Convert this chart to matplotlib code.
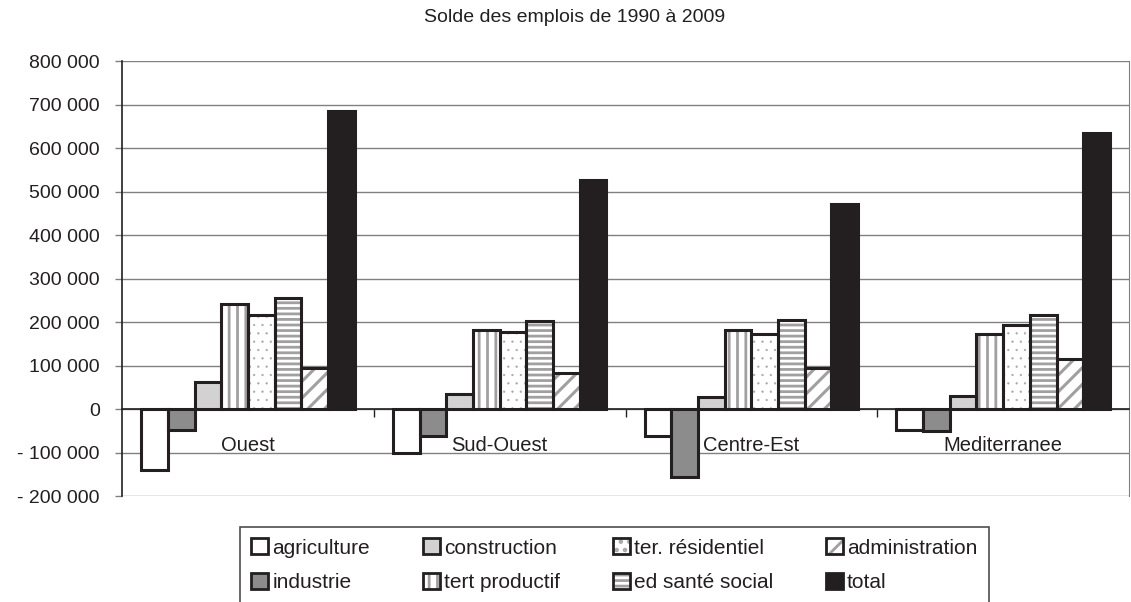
import numpy as np
import matplotlib
matplotlib.use("Agg")
import matplotlib.pyplot as plt
import matplotlib.patches as mpatches
from matplotlib.ticker import FuncFormatter, FixedLocator

# données : solde des emplois 1990-2009 par grande région
regions = ["Ouest", "Sud-Ouest", "Centre-Est", "Mediterranee"]
agriculture = [-140000, -100000, -61000, -48000]
industrie = [-48000, -62000, -155000, -49000]
construction = [62000, 36000, 29000, 31000]
tert_productif = [242000, 182000, 182000, 173000]
ter_residentiel = [217000, 177000, 172000, 194000]
ed_sante_social = [255000, 204000, 205000, 217000]
administration = [94000, 83000, 94000, 116000]
total = [686000, 526000, 472000, 636000]

series_names = ["agriculture", "industrie", "construction", "tert productif",
                "ter. résidentiel", "ed santé social", "administration", "total"]
series_values = [agriculture, industrie, construction, tert_productif,
                 ter_residentiel, ed_sante_social, administration, total]

# style de chaque série : (fond, hachure, couleur hachure, épaisseur hachure)
styles = [("white", None, "white", 2.0),
          ("#8c8c8c", None, "#8c8c8c", 2.0),
          ("#d2d2d2", None, "#d2d2d2", 2.0),
          ("white", "||", "#a0a0a0", 2.0),
          ("white", "..", "#a8a8a8", 0.4),
          ("white", "---", "#a0a0a0", 2.0),
          ("white", "//", "#a0a0a0", 2.2),
          ("#231f20", None, "#231f20", 2.0)]

plt.rcParams['font.family'] = ['Liberation Sans', 'DejaVu Sans']
plt.rcParams['hatch.linewidth'] = 2.0
txt_color = "#231f20"


def set_hlw(artist, lw):
    # épaisseur de hachure par objet si la version le permet
    try:
        artist.set_hatch_linewidth(lw)
    except AttributeError:
        pass


fig = plt.figure(figsize=(11.31, 6.02), dpi=100, facecolor="white")
ax = fig.add_axes([0.10787, 0.17558, 0.8904, 0.7226])

x = np.arange(len(regions))
n = len(series_names)
width = 0.106
legend_handles = []
for i, (vals, (fc, hatch, hc, hlw)) in enumerate(zip(series_values, styles)):
    pos = x - width * n / 2 + width * (i + 0.5)
    bars = ax.bar(pos, vals, width, color=fc, hatch=hatch, edgecolor=hc, linewidth=0, zorder=2)
    for b in bars:
        set_hlw(b, hlw)
    ax.bar(pos, vals, width, fill=False, edgecolor=txt_color, linewidth=2.2, zorder=3)
    p1 = mpatches.Patch(facecolor=fc, hatch=hatch, edgecolor=hc, linewidth=0)
    set_hlw(p1, hlw)
    p2 = mpatches.Patch(facecolor='none', edgecolor=txt_color, linewidth=2.0)
    legend_handles.append((p1, p2))

# axe des y
ax.set_ylim(-200000, 800000)
ax.set_yticks(np.arange(-200000, 800001, 100000))


def fmt(v, pos):
    s = "{:,.0f}".format(abs(v)).replace(",", " ")
    return "- " + s if v < 0 else s


ax.yaxis.set_major_formatter(FuncFormatter(fmt))
ax.tick_params(axis='y', length=5, width=1, color="#808080", pad=11,
               labelsize=14, labelcolor=txt_color)
ax.yaxis.grid(True, color="#808080", linewidth=1.0)
ax.set_axisbelow(True)

# axe des x positionné sur zéro
ax.set_xlim(-0.5, 3.5)
ax.spines['bottom'].set_position(('data', 0))
ax.spines['bottom'].set_color(txt_color)
ax.spines['bottom'].set_linewidth(1.2)
ax.spines['bottom'].set_zorder(4)
ax.spines['top'].set_visible(False)
ax.spines['left'].set_color(txt_color)
ax.spines['left'].set_linewidth(1.2)
ax.spines['right'].set_color("#808080")
ax.xaxis.set_major_locator(FixedLocator([0.5, 1.5, 2.5]))
ax.xaxis.set_minor_locator(FixedLocator(x))
ax.set_xticklabels([], minor=False)
ax.set_xticklabels(regions, minor=True)
ax.tick_params(axis='x', which='major', length=6, width=1, color=txt_color, direction='out')
ax.tick_params(axis='x', which='minor', length=0, pad=19, labelsize=14.5, labelcolor=txt_color)

fig.text(574.5 / 1131, 1 - 18 / 602, "Solde des emplois de 1990 à 2009",
         ha='center', va='center', fontsize=14, color=txt_color)

leg = fig.legend(legend_handles, series_names, ncol=4, loc='upper left',
                 bbox_to_anchor=(240 / 1131, 1 - 527 / 602),
                 fontsize=15, frameon=True, fancybox=False,
                 handlelength=0.8, handleheight=0.8, handletextpad=0.2,
                 columnspacing=2.55, labelspacing=0.72, borderpad=0.55,
                 borderaxespad=0)
leg.get_frame().set_edgecolor(txt_color)
leg.get_frame().set_linewidth(1.2)
for t in leg.get_texts():
    t.set_color(txt_color)

plt.savefig("out.png", dpi=100, facecolor="white")
